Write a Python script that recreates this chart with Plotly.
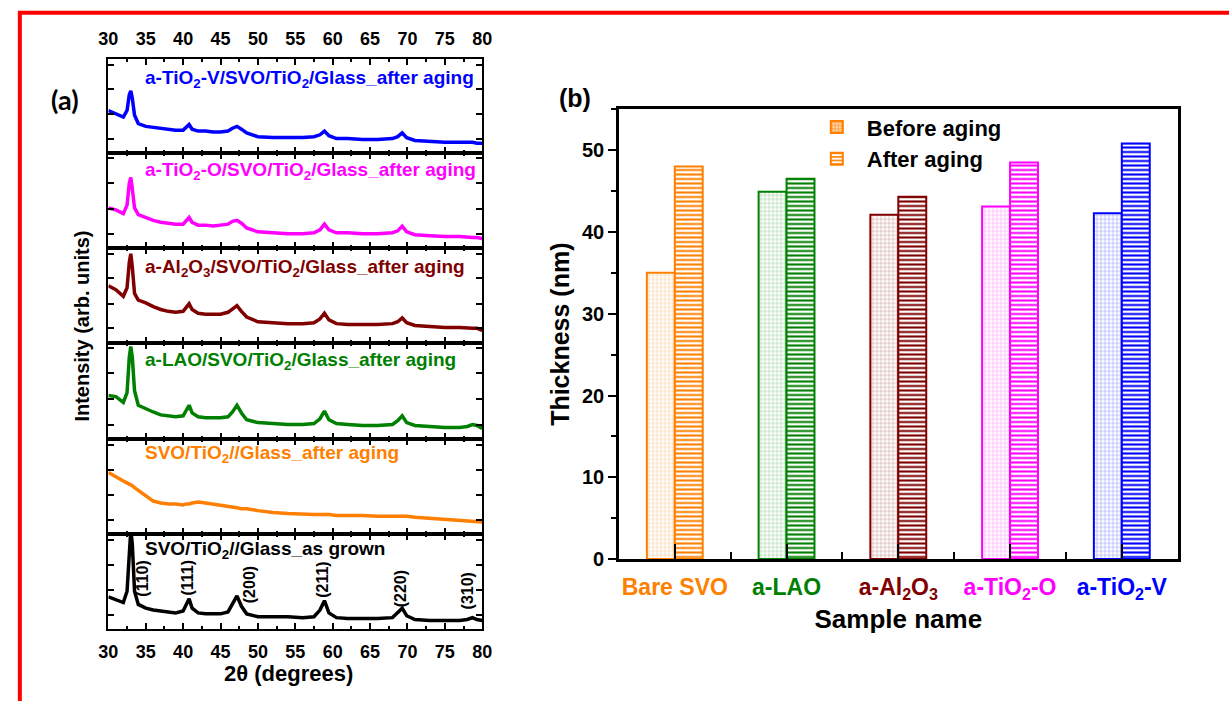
import plotly.graph_objects as go

W, H = 1229, 701

# ---------------- Data: XRD panel (a) ----------------
two_theta = [30, 31, 32, 32.5, 32.8, 33.0, 33.2, 33.5, 34, 35, 36, 37, 38, 39, 40, 40.4, 40.8, 41.2,
             42, 43, 44, 45, 46, 46.6, 47.2, 47.8, 48.5, 50, 52, 54, 56, 57.5, 58.3, 58.9, 59.5,
             60.5, 62, 64, 66, 68, 68.7, 69.3, 69.9, 71, 73, 75, 77, 78, 78.7, 79.3, 80]

int_tio2_v = [0.45, 0.42, 0.38, 0.45, 0.62, 0.66, 0.58, 0.40, 0.31, 0.28, 0.27, 0.26, 0.25, 0.24, 0.24, 0.27, 0.30, 0.25,
              0.23, 0.23, 0.22, 0.22, 0.23, 0.26, 0.28, 0.25, 0.21, 0.17, 0.16, 0.16, 0.16, 0.17, 0.19, 0.23, 0.18,
              0.15, 0.15, 0.14, 0.14, 0.15, 0.17, 0.21, 0.16, 0.13, 0.12, 0.11, 0.11, 0.11, 0.11, 0.10, 0.10]
int_tio2_o = [0.42, 0.40, 0.36, 0.45, 0.68, 0.74, 0.62, 0.42, 0.35, 0.32, 0.29, 0.27, 0.26, 0.25, 0.25, 0.28, 0.32, 0.27,
              0.24, 0.24, 0.23, 0.24, 0.25, 0.28, 0.29, 0.26, 0.21, 0.17, 0.16, 0.15, 0.15, 0.16, 0.19, 0.25, 0.19,
              0.16, 0.16, 0.15, 0.15, 0.16, 0.18, 0.23, 0.17, 0.14, 0.13, 0.12, 0.12, 0.11, 0.11, 0.11, 0.10]
int_al2o3 = [0.60, 0.56, 0.49, 0.58, 0.85, 0.94, 0.80, 0.52, 0.45, 0.42, 0.38, 0.35, 0.33, 0.32, 0.33, 0.37, 0.41, 0.35,
             0.31, 0.30, 0.30, 0.30, 0.32, 0.36, 0.39, 0.33, 0.27, 0.22, 0.21, 0.20, 0.20, 0.21, 0.25, 0.31, 0.24,
             0.20, 0.19, 0.19, 0.19, 0.20, 0.22, 0.26, 0.21, 0.18, 0.17, 0.16, 0.16, 0.15, 0.15, 0.15, 0.13]
int_lao = [0.45, 0.44, 0.38, 0.48, 0.85, 0.96, 0.85, 0.50, 0.35, 0.31, 0.28, 0.25, 0.24, 0.23, 0.24, 0.30, 0.35, 0.27,
           0.23, 0.22, 0.22, 0.22, 0.23, 0.28, 0.35, 0.27, 0.20, 0.17, 0.16, 0.15, 0.15, 0.16, 0.21, 0.29, 0.20,
           0.16, 0.15, 0.14, 0.14, 0.15, 0.19, 0.24, 0.17, 0.14, 0.13, 0.12, 0.12, 0.13, 0.15, 0.14, 0.11]
int_bare_aged = [0.65, 0.60, 0.56, 0.54, 0.53, 0.52, 0.51, 0.49, 0.46, 0.40, 0.35, 0.33, 0.32, 0.32, 0.31, 0.32, 0.32, 0.33,
                 0.34, 0.33, 0.32, 0.31, 0.30, 0.29, 0.28, 0.27, 0.27, 0.25, 0.23, 0.22, 0.21, 0.21, 0.21, 0.21, 0.21,
                 0.20, 0.20, 0.20, 0.19, 0.19, 0.19, 0.19, 0.19, 0.18, 0.17, 0.16, 0.15, 0.14, 0.14, 0.13, 0.13]
int_as_grown = [0.34, 0.31, 0.28, 0.40, 0.85, 1.05, 0.90, 0.40, 0.26, 0.22, 0.20, 0.19, 0.18, 0.17, 0.19, 0.26, 0.32, 0.22,
                0.17, 0.16, 0.16, 0.16, 0.18, 0.26, 0.35, 0.24, 0.16, 0.13, 0.13, 0.13, 0.12, 0.13, 0.20, 0.30, 0.17,
                0.12, 0.11, 0.11, 0.11, 0.12, 0.17, 0.22, 0.14, 0.10, 0.09, 0.09, 0.09, 0.10, 0.12, 0.10, 0.09]

xrd_series = [int_tio2_v, int_tio2_o, int_al2o3, int_lao, int_bare_aged, int_as_grown]
xrd_labels = ["a-TiO<sub>2</sub>-V/SVO/TiO<sub>2</sub>/Glass_after aging",
              "a-TiO<sub>2</sub>-O/SVO/TiO<sub>2</sub>/Glass_after aging",
              "a-Al<sub>2</sub>O<sub>3</sub>/SVO/TiO<sub>2</sub>/Glass_after aging",
              "a-LAO/SVO/TiO<sub>2</sub>/Glass_after aging",
              "SVO/TiO<sub>2</sub>//Glass_after aging",
              "SVO/TiO<sub>2</sub>//Glass_as grown"]
xrd_colors = ["#0000FF", "#FF00FF", "#800000", "#008000", "#FF8000", "#000000"]

miller_labels = ["(110)", "(111)", "(200)", "(211)", "(220)", "(310)"]
miller_pos = [34.6, 40.6, 48.9, 58.7, 69.0, 78.0]
miller_y = [0.53, 0.54, 0.47, 0.52, 0.43, 0.40]

# ---------------- Data: thickness panel (b) ----------------
samples = ["Bare SVO", "a-LAO", "a-Al<sub>2</sub>O<sub>3</sub>", "a-TiO<sub>2</sub>-O", "a-TiO<sub>2</sub>-V"]
before_aging = [35.0, 44.9, 42.1, 43.1, 42.3]
after_aging = [48.0, 46.5, 44.3, 48.5, 50.8]
sample_colors = ["#FF8000", "#008000", "#800000", "#FF00FF", "#0000FF"]
sample_tints = ["rgba(255,128,0,0.35)", "rgba(0,128,0,0.35)", "rgba(128,0,0,0.35)",
                "rgba(255,0,255,0.35)", "rgba(0,0,255,0.35)"]

FONT = "Liberation Sans"

def px_x(p):
    return p / W

def px_y(p):
    return 1 - p / H

fig = go.Figure()
layout = {}
annotations = []

# Panel boundaries (pixels, top to bottom)
bounds = [60, 155, 252, 348, 446, 543, 639]
xdom = [px_x(100), px_x(480)]

for i in range(6):
    n = i + 1
    xa = "x" if n == 1 else f"x{n}"
    ya = "y" if n == 1 else f"y{n}"
    fig.add_trace(go.Scatter(x=two_theta, y=xrd_series[i], mode="lines",
                             line=dict(color=xrd_colors[i], width=3.5),
                             xaxis=xa, yaxis=ya, showlegend=False, hoverinfo="skip"))
    xkey = "xaxis" if n == 1 else f"xaxis{n}"
    ykey = "yaxis" if n == 1 else f"yaxis{n}"
    xcfg = dict(domain=xdom, anchor=ya, range=[30, 80], tick0=30, dtick=5,
                ticks="inside", ticklen=6, tickwidth=2, tickcolor="black",
                minor=dict(dtick=2.5, tick0=30, ticks="inside", ticklen=3, tickwidth=2, tickcolor="black"),
                showline=True, linewidth=2, linecolor="black", mirror="ticks",
                showgrid=False, zeroline=False,
                tickfont=dict(family=FONT, size=18, color="black", weight="bold"),
                ticklabelstandoff=5,
                showticklabels=(n == 1 or n == 6), side=("top" if n == 1 else "bottom"))
    layout[xkey] = xcfg
    layout[ykey] = dict(domain=[px_y(bounds[i + 1]), px_y(bounds[i])], anchor=xa, range=[0, 1],
                        tickvals=[0.15, 0.41, 0.68, 0.94], ticks="inside", ticklen=6, tickwidth=2,
                        tickcolor="black", showticklabels=False, showline=True, linewidth=2,
                        linecolor="black", mirror="ticks", showgrid=False, zeroline=False)

label_y = [0.79, 0.81, 0.79, 0.81, 0.84, 0.84]
for i in range(6):
    n = i + 1
    xa = "x" if n == 1 else f"x{n}"
    ya = "y" if n == 1 else f"y{n}"
    annotations.append(dict(x=34.6, y=label_y[i], xref=xa, yref=ya, xanchor="left", yanchor="middle",
                            text=f"<b>{xrd_labels[i]}</b>", showarrow=False,
                            font=dict(family=FONT, size=19, color=xrd_colors[i])))

for lbl, xp, yp in zip(miller_labels, miller_pos, miller_y):
    annotations.append(dict(x=xp, y=yp, xref="x6", yref="y6", text=f"<b>{lbl}</b>", textangle=-90,
                            xanchor="center", yanchor="middle",
                            showarrow=False, font=dict(family=FONT, size=16, color="black")))

annotations.append(dict(x=px_x(73), y=px_y(331), xref="paper", yref="paper",
                        xanchor="center", yanchor="middle",
                        text="<b>Intensity (arb. units)</b>", textangle=-90, showarrow=False,
                        font=dict(family=FONT, size=20, color="black")))
annotations.append(dict(x=px_x(283), y=px_y(684), xref="paper", yref="paper",
                        xanchor="center", yanchor="middle",
                        text="<b>2θ (degrees)</b>", showarrow=False,
                        font=dict(family=FONT, size=22, color="black")))
annotations.append(dict(x=px_x(56), y=px_y(101), xref="paper", yref="paper",
                        xanchor="center", yanchor="middle",
                        text="<b>(a)</b>", showarrow=False,
                        font=dict(family="Lato", size=27, color="black")))
annotations.append(dict(x=px_x(574), y=px_y(100), xref="paper", yref="paper",
                        xanchor="center", yanchor="middle",
                        text="<b>(b)</b>", showarrow=False,
                        font=dict(family=FONT, size=25, color="black")))

# ---------------- Bar chart (b) ----------------
xpos = list(range(len(samples)))
fig.add_trace(go.Bar(x=xpos, y=before_aging, name="Before aging", xaxis="x7", yaxis="y7",
                     marker=dict(color=sample_tints,
                                 line=dict(color=sample_colors, width=2),
                                 pattern=dict(shape="+", size=4, solidity=0.3,
                                              fgcolor=sample_colors, bgcolor=sample_tints,
                                              fillmode="replace")),
                     hoverinfo="skip"))
fig.add_trace(go.Bar(x=xpos, y=after_aging, name="After aging", xaxis="x7", yaxis="y7",
                     marker=dict(color="white",
                                 line=dict(color=sample_colors, width=2),
                                 pattern=dict(shape="-", size=4.5, solidity=0.45,
                                              fgcolor=sample_colors, bgcolor="white",
                                              fillmode="replace")),
                     hoverinfo="skip"))

ticktext = [f'<span style="color:{c}"><b>{s}</b></span>' for s, c in zip(samples, sample_colors)]
layout["xaxis7"] = dict(domain=[px_x(619), px_x(1187)], anchor="y7", range=[-0.5, len(samples) - 0.5],
                        tickvals=xpos, ticktext=ticktext, ticks="inside", ticklen=15, tickwidth=2,
                        tickcolor="black",
                        minor=dict(tick0=0.5, dtick=1, ticks="inside", ticklen=7, tickwidth=2, tickcolor="black"),
                        showline=True, linewidth=2.5, linecolor="black", mirror=True,
                        showgrid=False, zeroline=False,
                        tickfont=dict(family=FONT, size=23),
                        ticklabelstandoff=6,
                        title=dict(text="<b>Sample name</b>", font=dict(family=FONT, size=26, color="black"),
                                   standoff=8))
layout["yaxis7"] = dict(domain=[px_y(568), px_y(111)], anchor="x7", range=[0, 55], dtick=10,
                        ticks="outside", ticklen=8, tickwidth=2, tickcolor="black",
                        minor=dict(dtick=5, ticks="outside", ticklen=5, tickwidth=2, tickcolor="black"),
                        showline=True, linewidth=2.5, linecolor="black", mirror=True,
                        showgrid=False, zeroline=False,
                        tickfont=dict(family=FONT, size=20, color="black", weight="bold"),
                        title=dict(text="<b>Thickness (nm)</b>", font=dict(family=FONT, size=25, color="black"),
                                   standoff=6))

fig.update_layout(
    width=W, height=H, margin=dict(l=0, r=0, t=0, b=0),
    paper_bgcolor="white", plot_bgcolor="white",
    barmode="group", bargap=0.5, bargroupgap=0,
    showlegend=True,
    legend=dict(x=px_x(810), y=px_y(108), xanchor="left", yanchor="top",
                bgcolor="rgba(0,0,0,0)", borderwidth=0,
                font=dict(family=FONT, size=22, color="black", weight="bold"),
                itemwidth=50, tracegroupgap=2),
    annotations=annotations,
    shapes=[dict(type="rect", xref="paper", yref="paper",
                 x0=px_x(10), y0=px_y(13), x1=1.02, y1=-0.02,
                 line=dict(color="red", width=4), fillcolor="rgba(0,0,0,0)", layer="above")],
    **layout,
)

fig.write_html("out.html")
